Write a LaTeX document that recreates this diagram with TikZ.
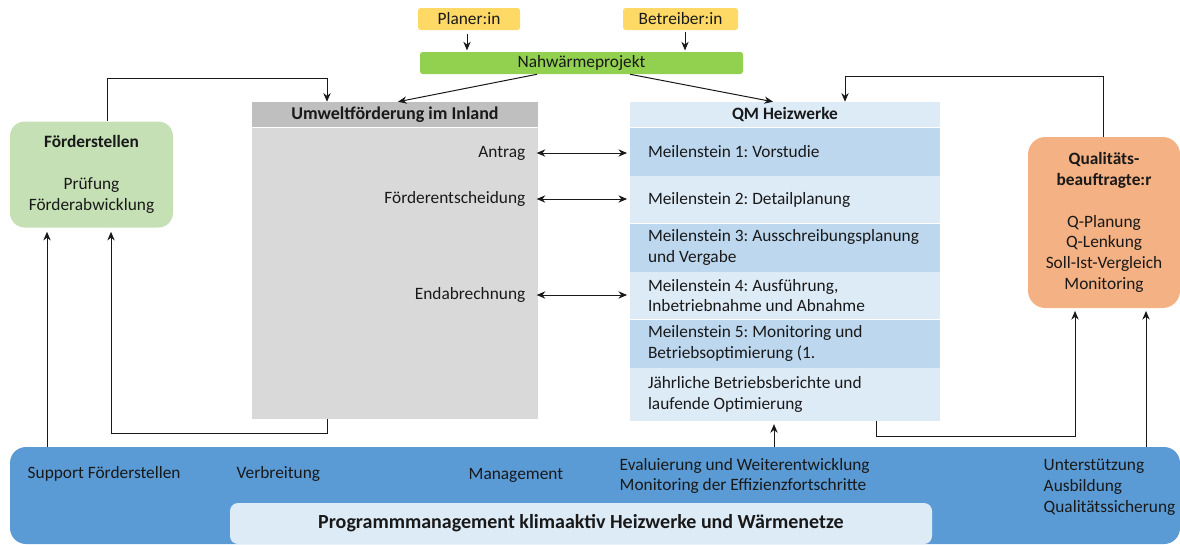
\documentclass[tikz,border=0pt]{standalone}
\usepackage{fontspec}
\setmainfont{Carlito}
\usetikzlibrary{positioning,arrows.meta}
\frenchspacing

\definecolor{roleyellow}{HTML}{FFD966}
\definecolor{projgreen}{HTML}{92D050}
\definecolor{fundgreen}{HTML}{C5E0B4}
\definecolor{qorange}{HTML}{F4B183}
\definecolor{headgray}{HTML}{BFBFBF}
\definecolor{bodygray}{HTML}{D9D9D9}
\definecolor{qmlight}{HTML}{DDEBF7}
\definecolor{qmdark}{HTML}{BDD7EE}
\definecolor{progblue}{HTML}{5B9BD5}

\begin{document}
\begin{tikzpicture}[x=0.75pt, y=-0.75pt, >={Stealth[length=6.5pt,width=5.5pt]},
    every node/.style={font=\fontsize{13}{15.6}\selectfont, text=black!90},
    box/.style={inner sep=0pt, align=center},
    role/.style={box, fill=roleyellow, rounded corners=2pt, minimum height=16.5pt},
    milestone/.style={inner xsep=0pt, inner ysep=0pt, text width=232.5pt,
      align=flush left, minimum height=36pt,
      execute at begin node={\leftskip=13.5pt\relax}},
    link/.style={->, line width=0.75pt, draw=black!90}]

    \useasboundingbox (0,0) rectangle (1180,544);

    % top: actors and project
    \node[role, minimum width=76.5pt] (planer) at (469,19) {Planer:in};
    \node[role, minimum width=86.25pt] (betreiber) at (680.5,19) {Betreiber:in};
    \node[box, fill=projgreen, rounded corners=2pt, minimum width=242.25pt,
      minimum height=16.5pt] (projekt) at (581.5,63) {Nahwärmeprojekt};

    % funding column
    \node[box, fill=headgray, minimum width=214.5pt, minimum height=18.75pt,
      font=\fontsize{13.5}{15.6}\selectfont\bfseries] (umwhead) at (395,114.5) {Umweltförderung im Inland};
    \node[box, fill=bodygray, minimum width=214.5pt, minimum height=218.25pt,
      below=0pt of umwhead] (umwbody) {};
    \node[anchor=east] (antrag) at (530,153) {Antrag};
    \node[anchor=east] (entscheid) at (530,199) {Förderentscheidung};
    \node[anchor=east] (endab) at (530,295) {Endabrechnung};

    % QM column
    \node[box, fill=qmlight, minimum width=232.5pt, minimum height=18.75pt,
      font=\fontsize{13}{15.6}\selectfont\bfseries] (qmhead) at (785,114.5) {QM Heizwerke};
    \node[milestone, fill=qmdark, below=0pt of qmhead] (m1) {Meilenstein 1: Vorstudie};
    \node[milestone, fill=qmlight, minimum height=35.25pt, below=0pt of m1] (m2) {Meilenstein 2: Detailplanung};
    \node[milestone, fill=qmdark, below=0pt of m2] (m3) {Meilenstein 3: Ausschreibungsplanung\\und Vergabe};
    \node[milestone, fill=qmlight, minimum height=35.25pt, below=0pt of m3] (m4) {Meilenstein 4: Ausführung,\\Inbetriebnahme und Abnahme};
    \node[milestone, fill=qmdark, below=0pt of m4] (m5) {Meilenstein 5: Monitoring und\\Betriebsoptimierung (1.};
    \node[milestone, fill=qmlight, minimum height=39.75pt, below=0pt of m5] (jaehrlich) {Jährliche Betriebsberichte und\\laufende Optimierung};

    % side boxes
    \node[box, fill=fundgreen, rounded corners=11pt, minimum width=122.25pt,
      minimum height=79.5pt] (foerder) at (91.5,174.5)
      {\textbf{Förderstellen}\\[15.6pt]Prüfung\\Förderabwicklung};
    \node[box, fill=qorange, rounded corners=13pt, minimum width=114pt,
      minimum height=128.25pt] (qualitaet) at (1104,222.5)
      {\textbf{Qualitäts-}\\\textbf{beauftragte:r}\\[15.6pt]Q-Planung\\Q-Lenkung\\Soll-Ist-Vergleich\\Monitoring};

    % programme bar
    \node[box, fill=progblue, rounded corners=12pt, minimum width=877.5pt,
      minimum height=72.75pt] (prog) at (595,495.5) {};
    \node[box, fill=qmlight, rounded corners=6pt, minimum width=526.5pt,
      minimum height=30.75pt, font=\fontsize{15}{18}\selectfont\bfseries] (progtitle) at (581,523.5)
      {Programmmanagement klimaaktiv Heizwerke und Wärmenetze};
    \node[anchor=west] (support) at (23,474) {Support Förderstellen};
    \node[anchor=west] (verbreit) at (232,474) {Verbreitung};
    \node[anchor=west] (mgmt) at (464,475) {Management};
    \node[anchor=west, align=left] (evalu) at (615,476)
      {Evaluierung und Weiterentwicklung\\Monitoring der Effizienzfortschritte};
    \node[anchor=west, align=left] (unterst) at (1039,487)
      {Unterstützung\\Ausbildung\\Qualitätssicherung};

    % connectors
    \draw[link, shorten <=3pt, shorten >=1pt] (planer.south -| 467,0) -- (projekt.north -| 467,0);
    \draw[link, shorten <=1pt, shorten >=1pt] (betreiber.south -| 685,0) -- (projekt.north -| 685,0);
    \draw[link] (projekt.south -| 537,0) -- (umwhead.north -| 398,0);
    \draw[link] (projekt.south -| 630,0) -- (qmhead.north -| 773,0);
    \draw[link] (foerder.north -| 107,0) -- ++(0,-43) -| (umwhead.north -| 327,0);
    \draw[link] (qualitaet.north -| 1103,0) -- ++(0,-60) -| (qmhead.north -| 845,0);

    \draw[link, <->, shorten <=5pt, shorten >=2pt] (antrag.east) -- (antrag.east -| m1.west);
    \draw[link, <->, shorten <=5pt, shorten >=2pt] (entscheid.east) -- (entscheid.east -| m2.west);
    \draw[link, <->, shorten <=5pt, shorten >=2pt] (endab.east) -- (endab.east -| m4.west);

    \draw[link, shorten >=3pt] (prog.north -| 47,0) -- (foerder.south -| 47,0);
    \draw[link, shorten >=3pt] (umwbody.south -| 327,0) -- ++(0,15) -| (foerder.south -| 111,0);
    \draw[link, shorten >=2pt] (prog.north -| 774,0) -- (jaehrlich.south -| 774,0);
    \draw[link, shorten >=2pt] (jaehrlich.south -| 876,0) -- ++(0,15) -| (qualitaet.south -| 1075,0);
    \draw[link, shorten >=2pt] (prog.north -| 1146,0) -- (qualitaet.south -| 1146,0);
\end{tikzpicture}
\end{document}
